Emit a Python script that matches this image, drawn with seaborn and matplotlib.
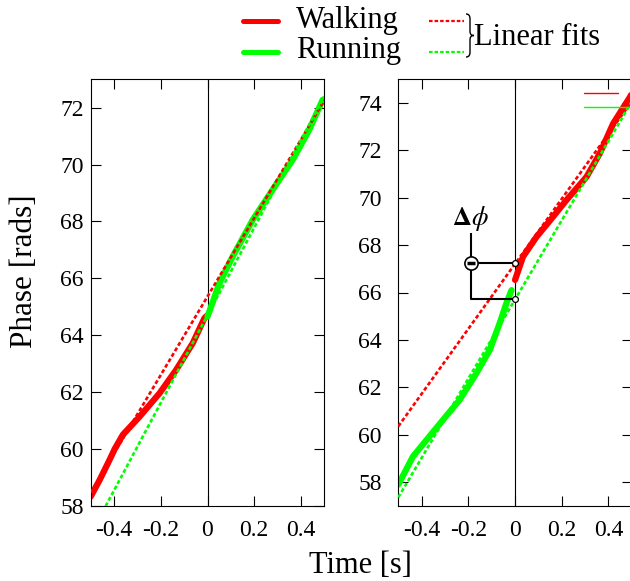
import matplotlib
matplotlib.use("Agg")
import matplotlib.pyplot as plt
from matplotlib.lines import Line2D
from matplotlib.path import Path
from matplotlib.patches import PathPatch
import seaborn as sns
import pandas as pd

# ---------------- data ----------------
# Left panel: walking before transition, running after
left_walk_t = [-0.5, -0.462, -0.42, -0.397, -0.362, -0.291, -0.205, -0.134, -0.063, -0.013, 0.0]
left_walk_y = [58.32, 58.9, 59.6, 60.0, 60.5, 61.13, 61.96, 62.78, 63.72, 64.6, 64.7]
left_run_t = [0.0, 0.051, 0.108, 0.194, 0.279, 0.365, 0.436, 0.493]
left_run_y = [64.65, 65.83, 66.77, 68.06, 69.12, 70.17, 71.23, 72.28]
left_fit_t = [-0.5, 0.5]
left_walk_fit = [58.46, 72.26]
left_run_fit = [57.0, 72.4]

# Right panel: running before transition, walking after
right_run_t = [-0.5, -0.437, -0.308, -0.237, -0.165, -0.108, -0.066, -0.037, -0.015]
right_run_y = [57.89, 59.08, 60.63, 61.47, 62.6, 63.58, 64.70, 65.55, 66.1]
right_walk_t = [0.0, 0.034, 0.092, 0.163, 0.22, 0.306, 0.363, 0.42, 0.492, 0.5]
right_walk_y = [66.53, 67.51, 68.35, 69.2, 69.9, 70.88, 71.87, 73.13, 74.25, 74.4]
right_fit_t = [-0.5, 0.5]
right_walk_fit = [60.35, 74.07]
right_run_fit = [57.35, 74.06]

# phase-jump annotation (right panel)
dphi_x = -0.19
dphi_top = 68.52
dphi_walk = 67.26
dphi_run = 65.71

x_ticks = [-0.4, -0.2, 0, 0.2, 0.4]
x_ticklabels = ["-0.4", "-0.2", "0", "0.2", "0.4"]
left_yticks = [58, 60, 62, 64, 66, 68, 70, 72]
right_yticks = [58, 60, 62, 64, 66, 68, 70, 72, 74]

RED = "#ff0000"
GREEN = "#00ff00"

# ---------------- style ----------------
sns.set_theme(style="ticks")
plt.rcParams["font.family"] = ["Liberation Serif", "DejaVu Serif"]
plt.rcParams["mathtext.fontset"] = "stix"
plt.rcParams["axes.edgecolor"] = "black"
plt.rcParams["axes.linewidth"] = 0.8
plt.rcParams["text.color"] = "black"
plt.rcParams["axes.labelcolor"] = "black"
plt.rcParams["xtick.color"] = "black"
plt.rcParams["ytick.color"] = "black"

W, H = 630, 581
fig = plt.figure(figsize=(W / 100, H / 100), dpi=100)
fig.patch.set_facecolor("white")

ax1 = fig.add_axes([90.7 / W, 1 - 505.7 / H, 233.6 / W, 426.4 / H])
ax2 = fig.add_axes([398.3 / W, 1 - 505.7 / H, 233.5 / W, 426.4 / H])

fit_style = dict(lw=1.9, linestyle=(0, (1.5, 0.9)))
solid_lw = 4.5


def draw_panel(ax, tA, yA, cA, tB, yB, cB, fit_t, fit_walk, fit_run):
    dfA = pd.DataFrame({"t": tA, "y": yA})
    dfB = pd.DataFrame({"t": tB, "y": yB})
    ax.axvline(0, color="black", lw=0.8, zorder=1)
    sns.lineplot(data=dfA, x="t", y="y", ax=ax, color=cA, lw=solid_lw,
                 sort=False, estimator=None, zorder=2)
    sns.lineplot(data=dfB, x="t", y="y", ax=ax, color=cB, lw=solid_lw,
                 sort=False, estimator=None, zorder=2)
    dff = pd.DataFrame({"t": fit_t, "walk": fit_walk, "run": fit_run})
    sns.lineplot(data=dff, x="t", y="walk", ax=ax, color=RED, zorder=3,
                 sort=False, estimator=None, **fit_style)
    sns.lineplot(data=dff, x="t", y="run", ax=ax, color=GREEN, zorder=3,
                 sort=False, estimator=None, **fit_style)
    ax.set_xlim(-0.5, 0.5)
    ax.set_xticks(x_ticks)
    ax.set_xticklabels(x_ticklabels)
    ax.set_xlabel("")
    ax.set_ylabel("")
    ax.tick_params(axis="both", which="both", direction="in", length=7,
                   width=0.8, color="black", top=True, right=True,
                   labelsize=17, labelcolor="black")
    ax.tick_params(axis="x", pad=10)
    for s in ax.spines.values():
        s.set_visible(True)
        s.set_color("black")
        s.set_linewidth(0.8)
    ax.set_facecolor("white")


draw_panel(ax1, left_walk_t, left_walk_y, RED, left_run_t, left_run_y, GREEN,
           left_fit_t, left_walk_fit, left_run_fit)
ax1.set_ylim(58, 73)
ax1.set_yticks(left_yticks)
ax1.tick_params(axis="y", pad=5)

draw_panel(ax2, right_run_t, right_run_y, GREEN, right_walk_t, right_walk_y, RED,
           right_fit_t, right_walk_fit, right_run_fit)
ax2.set_ylim(57, 75)
ax2.set_yticks(right_yticks)
ax2.tick_params(axis="y", pad=12)

# phase-jump bracket
ax2.plot([dphi_x, dphi_x], [dphi_top, dphi_run], color="black", lw=1.5, zorder=5,
         solid_capstyle="butt")
ax2.plot([dphi_x, 0], [dphi_walk, dphi_walk], color="black", lw=1.5, zorder=5)
ax2.plot([dphi_x, 0], [dphi_run, dphi_run], color="black", lw=1.5, zorder=5)
ax2.plot([dphi_x], [dphi_walk], marker="o", ms=9.5, mfc="white", mec="black",
         mew=1.2, zorder=6)
ax2.plot([dphi_x], [dphi_walk], marker="_", ms=5.5, mec="black", mew=2.5, zorder=7)
ax2.plot([0, 0], [dphi_walk, dphi_run], linestyle="none", marker="o", ms=4.2,
         mfc="white", mec="black", mew=0.9, zorder=6)
ax2.text(dphi_x, 69.14, r"$\mathbf{\Delta}\phi$", fontsize=19, ha="center",
         va="center", zorder=6)

# small (cropped) legend lines in right panel
ax2.add_line(Line2D([0.795, 0.941], [0.967, 0.967], transform=ax2.transAxes,
                    color=RED, lw=1.0))
ax2.add_line(Line2D([0.795, 0.99], [0.934, 0.934], transform=ax2.transAxes,
                    color=GREEN, lw=1.0))


# ---------------- figure legend ----------------
def fx(px):
    return px / W


def fy(py):
    return 1 - py / H


fig.add_artist(Line2D([fx(243), fx(278)], [fy(21), fy(21)], color=RED, lw=3.6))
fig.add_artist(Line2D([fx(243), fx(278)], [fy(52), fy(52)], color=GREEN, lw=3.6))
fig.text(fx(296), fy(28), "Walking", fontsize=22, ha="left", va="baseline")
fig.text(fx(296), fy(58), "Running", fontsize=22, ha="left", va="baseline")
fig.add_artist(Line2D([fx(429), fx(464)], [fy(21), fy(21)], color=RED, lw=1.6,
                      linestyle=(0, (1.6, 0.9))))
fig.add_artist(Line2D([fx(429), fx(464)], [fy(52), fy(52)], color=GREEN, lw=1.6,
                      linestyle=(0, (1.6, 0.9))))
brace_px = [(466, 14), (469, 14), (470, 16), (470, 19), (470, 31),
            (470, 34), (471, 35.5), (474, 35.5),
            (471, 35.5), (470, 37), (470, 40), (470, 52),
            (470, 55), (469, 57), (466, 57)]
codes = [Path.MOVETO, Path.CURVE4, Path.CURVE4, Path.CURVE4, Path.LINETO,
         Path.CURVE4, Path.CURVE4, Path.CURVE4,
         Path.CURVE4, Path.CURVE4, Path.CURVE4, Path.LINETO,
         Path.CURVE4, Path.CURVE4, Path.CURVE4]
brace = Path([(fx(a), fy(b)) for a, b in brace_px], codes)
fig.add_artist(PathPatch(brace, transform=fig.transFigure, fill=False,
                         edgecolor="black", lw=1.0))
fig.text(fx(474), fy(45), "Linear fits", fontsize=22, ha="left", va="baseline")

# axis labels
fig.text(fx(25), fy(271), "Phase [rads]", fontsize=22.5, rotation=90,
         ha="center", va="center")
fig.text(fx(360.5), fy(573), "Time [s]", fontsize=22, ha="center", va="baseline")

fig.savefig("out.png", dpi=100, facecolor="white")
